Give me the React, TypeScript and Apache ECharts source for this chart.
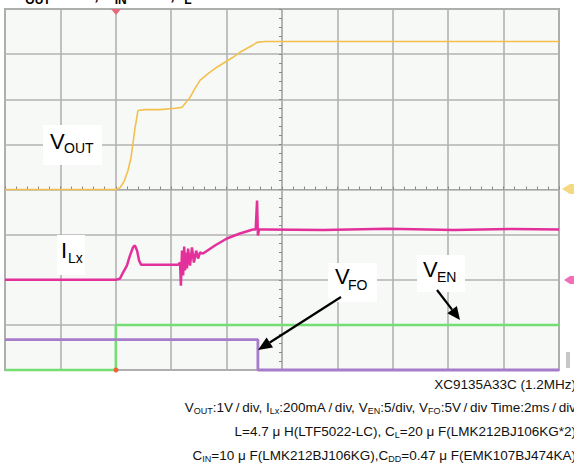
import React, { useEffect, useRef } from "react";
import * as echarts from "echarts";

// Time axis: 2 ms/div, trigger at 0 ms
const timeAxisMs = { min: -4, max: 16, step: 2 };

// VOUT (1 V/div)
const voutTimeMs = [-4, 0, 0.15, 0.3, 0.44, 0.55, 0.62, 0.69, 0.77, 0.8, 1.05, 1.6, 2.14, 2.39, 2.53, 2.68, 2.86, 3.04, 3.33, 3.65, 3.94, 4.23, 4.48, 4.74, 4.92, 5.1, 5.39, 6.65, 16];
const voutVolts = [0, 0, 0.04, 0.18, 0.42, 0.71, 1.02, 1.35, 1.64, 1.75, 1.77, 1.77, 1.8, 1.82, 1.93, 2.04, 2.24, 2.42, 2.57, 2.71, 2.82, 2.93, 3.04, 3.13, 3.19, 3.26, 3.28, 3.28, 3.28];

// ILx (200 mA/div)
const ilxTimeMs = [-4, 0, 0.15, 0.26, 0.4, 0.51, 0.62, 0.69, 0.77, 0.84, 0.91, 1.05, 1.6, 2.25, 2.32, 2.35, 2.39, 2.43, 2.47, 2.5, 2.53, 2.57, 2.61, 2.68, 2.75, 2.82, 2.9, 2.97, 3.04, 3.15, 3.58, 4.01, 4.48, 4.95, 5.05, 5.1, 5.13, 5.17, 5.39, 7.5, 9.8, 12.2, 14.3, 16];
const ilxMilliAmps = [0, 0, 5, 32, 63, 107, 143, 152, 129, 85, 67, 67, 67, 67, 76, -26, 129, 19, 147, 41, 121, 50, 138, 63, 143, 76, 129, 94, 121, 116, 152, 183, 205, 223, 223, 351, 196, 223, 223, 220, 226, 221, 225, 223];

// VEN (5 V/div)
const venTimeMs = [-4, 0, 0, 16];
const venVolts = [0, 0, 5, 5];

// VFO (5 V/div)
const vfoTimeMs = [-4, 5.13, 5.13, 16];
const vfoVolts = [3.37, 3.37, 0, 0];

const headerText = "{m|V}{s|OUT}{m|=3.3V, V}{s|IN}{m|=5.0V, I}{s|L}{m|=100mA}";

const TS = "\u2009"; // thin space
const footnoteLines = [
  "{a|XC9135A33C (1.2MHz)}",
  `{a|V}{s|OUT}{a|:1V${TS}/${TS}div, I}{s|Lx}{a|:200mA${TS}/${TS}div, V}{s|EN}{a|:5/div, V}{s|FO}{a|:5V${TS}/${TS}div Time:2ms${TS}/${TS}div}`,
  "{a|L=4.7 μ H(LTF5022-LC), C}{s|L}{a|=20 μ F(LMK212BJ106KG*2)}",
  "{a|C}{s|IN}{a|=10 μ F(LMK212BJ106KG),C}{s|DD}{a|=0.47 μ F(EMK107BJ474KA)}",
];

const FONT = "'Liberation Sans', Arial, sans-serif";

function zip(xs: number[], ys: number[]) {
  return xs.map((x, i) => [x, ys[i]]);
}

function label(main: string, sub: string, box: number[], mx: number, my: number, sx: number, sy: number) {
  return {
    type: "group",
    z: 100,
    children: [
      { type: "rect", z: 100, shape: { x: box[0], y: box[1], width: box[2], height: box[3] }, style: { fill: "#ffffff" } },
      { type: "text", z: 101, x: mx, y: my, style: { text: main, fontSize: 22, fontFamily: FONT, fill: "#000", align: "left", verticalAlign: "middle" } },
      { type: "text", z: 101, x: sx, y: sy, style: { text: sub, fontSize: 14, fontFamily: FONT, fill: "#000", align: "left", verticalAlign: "middle" } },
    ],
  };
}

function arrow(x1: number, y1: number, tx: number, ty: number, headLen: number, headHalf: number) {
  const dx = tx - x1, dy = ty - y1;
  const len = Math.sqrt(dx * dx + dy * dy);
  const ux = dx / len, uy = dy / len;
  const bx = tx - ux * headLen, by = ty - uy * headLen;
  const px = -uy * headHalf, py = ux * headHalf;
  return {
    type: "group",
    z: 100,
    children: [
      { type: "line", z: 100, shape: { x1, y1, x2: bx, y2: by }, style: { stroke: "#000", lineWidth: 2.2 } },
      { type: "polygon", z: 100, shape: { points: [[tx, ty], [bx + px, by + py], [bx - px, by - py]] }, style: { fill: "#000" } },
    ],
  };
}

export default function App() {
  const ref = useRef<HTMLDivElement>(null);
  useEffect(() => {
    const chart = echarts.init(ref.current!, null, { renderer: "svg" });
    const hidden = { show: false };
    const option: any = {
      animation: false,
      backgroundColor: "#ffffff",
      grid: {
        left: 5, top: 9, right: 15, bottom: 98,
        show: true, backgroundColor: "#F6F9F6", borderColor: "#A4A4A4", borderWidth: 2,
      },
      xAxis: [
        {
          type: "value", min: timeAxisMs.min, max: timeAxisMs.max, interval: timeAxisMs.step,
          axisLine: hidden, axisTick: hidden, axisLabel: hidden,
          splitLine: { show: true, lineStyle: { color: "#B2B2B2", width: 1.6 } },
        },
        {
          type: "value", min: -5, max: 5, interval: 1,
          axisLine: { show: true, onZero: true, onZeroAxisIndex: 0, lineStyle: { color: "#A8A8A8", width: 1 } },
          axisTick: { show: true, length: 3, lineStyle: { color: "#888" } },
          minorTick: { show: true, splitNumber: 5, length: 3, lineStyle: { color: "#888" } },
          axisLabel: hidden, splitLine: hidden,
        },
      ],
      yAxis: [
        {
          type: "value", min: -4, max: 4, interval: 1,
          axisLine: hidden, axisTick: hidden, axisLabel: hidden,
          splitLine: { show: true, lineStyle: { color: "#B2B2B2", width: 1.6 } },
        },
        {
          type: "value", min: -4, max: 4, interval: 1,
          axisLine: { show: true, onZero: true, onZeroAxisIndex: 1, lineStyle: { color: "#B0B0B0", width: 1.5 } },
          axisTick: { show: true, length: 3, inside: true, lineStyle: { color: "#888" } },
          minorTick: { show: true, splitNumber: 5, length: 3, lineStyle: { color: "#888" } },
          axisLabel: hidden, splitLine: hidden,
        },
        { type: "value", min: -400, max: 1200, interval: 200, show: false },
        { type: "value", min: 0, max: 40, interval: 5, show: false },
      ],
      series: [
        {
          name: "VEN", type: "line", xAxisIndex: 0, yAxisIndex: 3, data: zip(venTimeMs, venVolts),
          showSymbol: false, clip: false, lineStyle: { color: "#74DE74", width: 2.5 }, z: 3,
        },
        {
          name: "VFO", type: "line", xAxisIndex: 0, yAxisIndex: 3, data: zip(vfoTimeMs, vfoVolts),
          showSymbol: false, clip: false, lineStyle: { color: "#A67CCB", width: 2.8 }, z: 3,
        },
        {
          name: "ILx", type: "line", xAxisIndex: 0, yAxisIndex: 2, data: zip(ilxTimeMs, ilxMilliAmps),
          showSymbol: false, clip: false, lineStyle: { color: "#E4309A", width: 2.5 }, z: 4,
        },
        {
          name: "VOUT", type: "line", xAxisIndex: 0, yAxisIndex: 0, data: zip(voutTimeMs, voutVolts),
          showSymbol: false, clip: false, lineStyle: { color: "#F3C04F", width: 1.6 }, z: 5,
        },
      ],
      graphic: [
        {
          type: "text", z: 100, x: 14, y: -16.5,
          style: {
            text: headerText, fontFamily: FONT, fill: "#000", align: "left", verticalAlign: "top",
            rich: {
              m: { fontSize: 17, fontWeight: "bold", fontFamily: FONT, fill: "#000", lineHeight: 22 },
              s: { fontSize: 12, fontWeight: "bold", fontFamily: FONT, fill: "#000", lineHeight: 8, verticalAlign: "bottom" },
            },
          },
        },
        // trigger marker and channel markers
        { type: "polygon", z: 90, shape: { points: [[111, 9], [121, 9], [116, 15]] }, style: { fill: "#E8687A" } },
        { type: "circle", z: 90, shape: { cx: 116, cy: 370, r: 2.5 }, style: { fill: "#F0603A" } },
        { type: "polygon", z: 90, shape: { points: [[562, 189], [570, 184], [574, 184], [574, 194], [570, 194]] }, style: { fill: "#F3D060", opacity: 0.8 } },
        { type: "polygon", z: 90, shape: { points: [[564, 280], [570, 276], [574, 276], [574, 284], [570, 284]] }, style: { fill: "#EE4AA8", opacity: 0.8 } },
        { type: "rect", z: 90, shape: { x: 566, y: 352, width: 4, height: 16 }, style: { fill: "#A0A0A0", opacity: 0.6 } },
        label("V", "OUT", [43, 125, 59, 40], 50, 141, 64, 148),
        label("I", "Lx", [57, 235, 28, 40], 61, 250, 68, 258),
        label("V", "FO", [328, 263, 49, 39], 335, 276.5, 348, 284.5),
        label("V", "EN", [417, 255, 48, 37], 423, 269.5, 437, 276.5),
        arrow(341, 297, 258, 350, 14, 6),
        arrow(437, 290, 460, 320, 13, 6),
        ...footnoteLines.map((t, i) => ({
          type: "text", z: 100, x: 576, y: [384, 407, 431, 455][i],
          style: {
            text: t, fontFamily: FONT, fill: "#111", align: "right", verticalAlign: "middle",
            rich: {
              a: { fontSize: 13.5, fontFamily: FONT, fill: "#111", lineHeight: 16 },
              s: { fontSize: 9, fontFamily: FONT, fill: "#111", lineHeight: 9, verticalAlign: "bottom" },
            },
          },
        })),
      ],
    };
    chart.setOption(option);
    return () => chart.dispose();
  }, []);
  return (
    <div
      ref={ref}
      style={{ position: "fixed", left: 0, top: 0, width: 574, height: 468, background: "#ffffff" }}
    />
  );
}
